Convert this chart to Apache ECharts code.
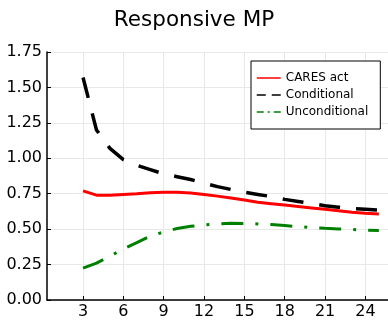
<!DOCTYPE html>
<html>
<head>
<meta charset="utf-8">
<script src="https://cdn.jsdelivr.net/npm/echarts@6/dist/echarts.min.js"></script>
<style>
  html, body { margin: 0; padding: 0; background: #fff; }
  #main { width: 388px; height: 320px; }
</style>
</head>
<body>
<div id="main"></div>
<script>
const horizon = [3, 4, 5, 6, 7, 8, 9, 10, 11, 12, 13, 14, 15, 16, 17, 18, 19, 20, 21, 22, 23, 24, 25];
const caresAct = [0.77, 0.74, 0.74, 0.745, 0.75, 0.757, 0.76, 0.76, 0.755, 0.745, 0.733, 0.72, 0.705, 0.69, 0.68, 0.67, 0.66, 0.65, 0.64, 0.63, 0.62, 0.612, 0.607];
const conditional = [1.57, 1.20, 1.07, 0.99, 0.95, 0.92, 0.89, 0.87, 0.85, 0.825, 0.80, 0.78, 0.76, 0.745, 0.73, 0.71, 0.695, 0.68, 0.665, 0.655, 0.645, 0.64, 0.635];
const unconditional = [0.225, 0.26, 0.31, 0.36, 0.405, 0.45, 0.48, 0.505, 0.52, 0.53, 0.538, 0.541, 0.54, 0.537, 0.532, 0.525, 0.518, 0.512, 0.506, 0.501, 0.497, 0.493, 0.49];
const xTicks = [3, 6, 9, 12, 15, 18, 21, 24];

const font = 'DejaVu Sans';
const pairs = (ys) => horizon.map((x, i) => [x, ys[i]]);

const myChart = echarts.init(document.getElementById('main'));
myChart.setOption({
  animation: false,
  title: {
    text: 'Responsive MP',
    left: 'center',
    top: 4,
    textStyle: { fontFamily: font, fontSize: 21.5, fontWeight: 'normal', color: '#000' }
  },
  legend: {
    orient: 'vertical',
    left: 251,
    top: 61,
    padding: [11, 12, 11, 5],
    itemWidth: 24,
    itemHeight: 14,
    itemGap: 5,
    backgroundColor: '#fff',
    borderColor: '#000',
    borderWidth: 1,
    borderRadius: 0,
    itemStyle: { opacity: 0 },
    lineStyle: { width: 1.5 },
    textStyle: { fontFamily: font, fontSize: 12, color: '#000' },
    data: [
      { name: 'CARES act', lineStyle: { type: 'solid' } },
      { name: 'Conditional', lineStyle: { type: [9, 6] } },
      { name: 'Unconditional', lineStyle: { type: [7, 4, 2, 4] } }
    ]
  },
  grid: { left: 47, right: 0, top: 52, bottom: 20 },
  xAxis: {
    type: 'value',
    min: 0.32,
    max: 25.68,
    axisLine: { lineStyle: { color: '#000', width: 1.5 } },
    axisTick: { inside: true, length: 4, customValues: xTicks, lineStyle: { color: '#000' } },
    axisLabel: { customValues: xTicks, fontFamily: font, fontSize: 16, color: '#000', margin: 4 },
    splitLine: { show: true, lineStyle: { color: '#e8e8e8', width: 1 } }
  },
  yAxis: {
    type: 'value',
    min: 0,
    max: 1.75,
    interval: 0.25,
    axisLine: { show: true, lineStyle: { color: '#000', width: 1.5 } },
    axisTick: { show: true, inside: true, length: 4, lineStyle: { color: '#000' } },
    axisLabel: {
      fontFamily: font, fontSize: 16, color: '#000', margin: 5,
      formatter: (v) => v.toFixed(2)
    },
    splitLine: { show: true, lineStyle: { color: '#e8e8e8', width: 1 } }
  },
  series: [
    {
      name: 'CARES act',
      type: 'line',
      data: pairs(caresAct),
      showSymbol: false,
      symbol: 'none',
      color: '#ff0000',
      lineStyle: { color: '#ff0000', width: 3 }
    },
    {
      name: 'Conditional',
      type: 'line',
      data: pairs(conditional),
      showSymbol: false,
      symbol: 'none',
      color: '#000000',
      lineStyle: { color: '#000000', width: 3.5, type: [21, 16], cap: 'butt' }
    },
    {
      name: 'Unconditional',
      type: 'line',
      data: pairs(unconditional),
      showSymbol: false,
      symbol: 'none',
      color: '#008000',
      lineStyle: { color: '#008000', width: 3, type: [22, 12, 3, 12], cap: 'butt' }
    }
  ]
});
</script>
</body>
</html>
